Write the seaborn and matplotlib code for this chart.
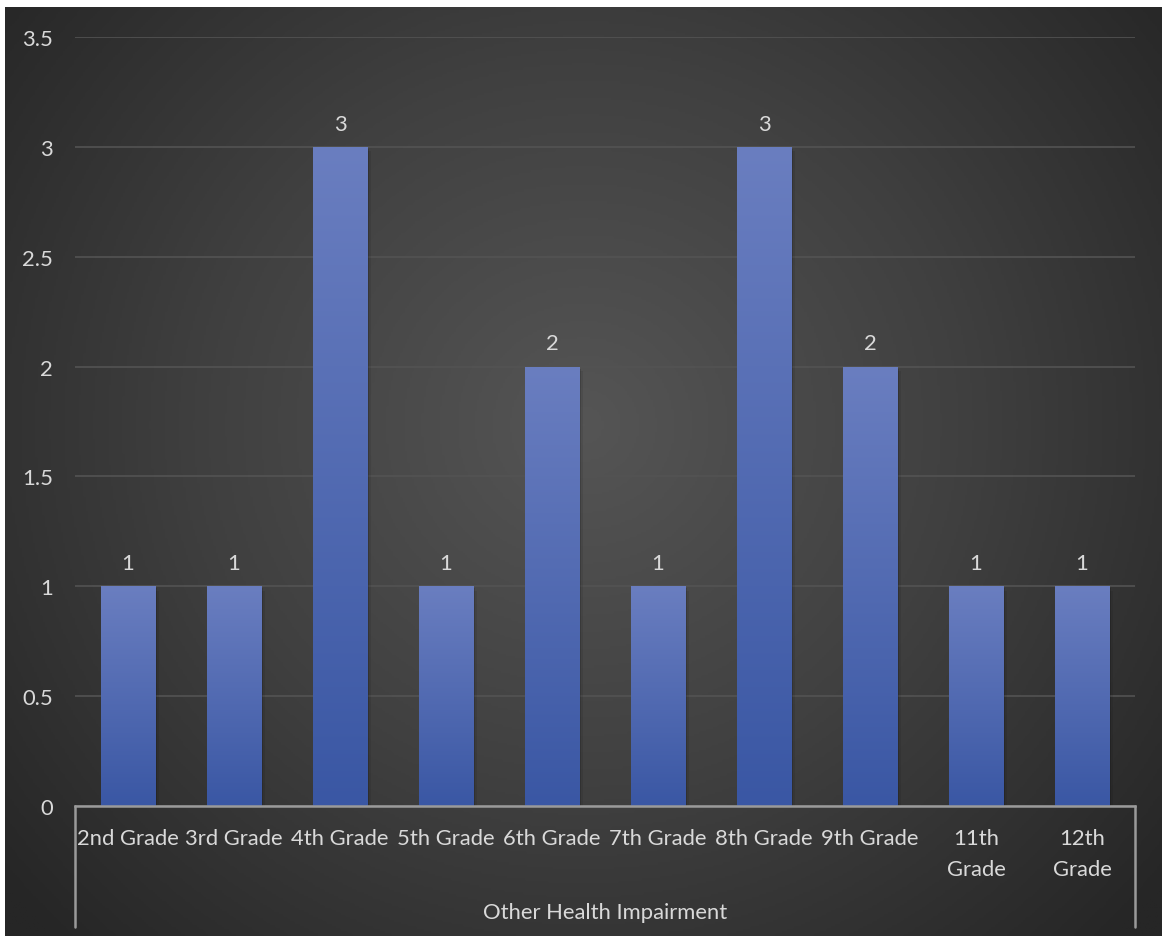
import textwrap
import numpy as np
import pandas as pd
import matplotlib
matplotlib.use("Agg")
import matplotlib.pyplot as plt
import seaborn as sns
from matplotlib.colors import LinearSegmentedColormap

categories = ["2nd Grade", "3rd Grade", "4th Grade", "5th Grade", "6th Grade",
              "7th Grade", "8th Grade", "9th Grade", "11th Grade", "12th Grade"]
values = [1, 1, 3, 1, 2, 1, 3, 2, 1, 1]
group_label = "Other Health Impairment"
y_ticks = [0, 0.5, 1, 1.5, 2, 2.5, 3, 3.5]
y_tick_labels = ["0", "0.5", "1", "1.5", "2", "2.5", "3", "3.5"]

sns.set_theme(style="white")
plt.rcParams["font.family"] = ["Lato", "DejaVu Sans"]
TXT = "#d9d9d9"
FS = 15.8

W, H = 1162, 937
fig = plt.figure(figsize=(W / 100, H / 100), dpi=100)
fig.patch.set_facecolor("white")

# background radial gradient (dark area, leaving thin white strip top/left)
bg = fig.add_axes([5 / W, 0, 1 - 5 / W, 1 - 8 / H])
yy, xx = np.mgrid[0:1:400j, 0:1:500j]
cx, cy = 0.50, 0.45
r = np.sqrt(((xx - cx) * 1.2) ** 2 + ((yy - cy) * 1.0) ** 2)
r = np.clip(r / 0.78, 0, 1)
bgcmap = LinearSegmentedColormap.from_list("bg", ["#555555", "#404040", "#262626"])
bg.imshow(r, cmap=bgcmap, aspect="auto", extent=[0, 1, 1, 0], vmin=0, vmax=1)
bg.set_axis_off()

left, right, top, bottom = 75, 1135, 38, 807
ax = fig.add_axes([left / W, 1 - bottom / H, (right - left) / W, (bottom - top) / H])
ax.patch.set_alpha(0)

df = pd.DataFrame({"category": categories, "value": values})
sns.barplot(data=df, x="category", y="value", ax=ax, width=0.51,
            color="#4a66b0", saturation=1, zorder=3)

ax.set_ylim(0, 3.5)
ax.set_xlim(-0.5, len(categories) - 0.5)
ax.set_yticks(y_ticks)
ax.set_yticklabels(y_tick_labels)
ax.set_xlabel("")
ax.set_ylabel("")
ax.grid(axis="y", color="#535353", linewidth=1.2, zorder=0)
ax.grid(axis="x", visible=False)
for s in ["top", "right", "left"]:
    ax.spines[s].set_visible(False)
ax.spines["bottom"].set_color("#9a9a9a")
ax.spines["bottom"].set_linewidth(1.8)
ax.spines["bottom"].set_zorder(5)

ax.tick_params(axis="y", length=0, pad=16, labelsize=FS, labelcolor=TXT)
ax.tick_params(axis="x", length=0, pad=16, labelsize=FS, labelcolor=TXT)
ax.set_xticks(range(len(categories)))
ax.set_xticklabels([textwrap.fill(c, 9) for c in categories], linespacing=1.7)

# gradient fill on bars
barcmap = LinearSegmentedColormap.from_list("bar", ["#3a57a4", "#6a7ec0"])
grad = np.linspace(0, 1, 256).reshape(-1, 1)
for p in ax.patches:
    x0, y0 = p.get_x(), p.get_y()
    w, h = p.get_width(), p.get_height()
    for k, a in enumerate([0.14, 0.08]):
        sh = plt.Rectangle((x0 + 0.01, y0), w + 0.012 * (k + 1), h - 0.01 * (k + 1),
                           facecolor="black", alpha=a, zorder=2, linewidth=0)
        ax.add_patch(sh)
    im = ax.imshow(grad, cmap=barcmap, aspect="auto", origin="lower",
                   extent=[x0, x0 + w, y0, y0 + h], zorder=3)
    im.set_clip_path(p)
    p.set_facecolor("none")
    p.set_edgecolor("none")

ax.set_xlim(-0.5, len(categories) - 0.5)
ax.set_ylim(0, 3.5)

ax.bar_label(ax.containers[0], labels=[str(v) for v in values], padding=9.5,
             color=TXT, fontsize=FS)

# group bracket and label
yb = -(928 - 807) / (807 - 38)
for xa in (0, 1):
    ax.plot([xa, xa], [0, yb], transform=ax.transAxes, color="#9a9a9a",
            linewidth=1.8, clip_on=False, zorder=5)
ax.text(0.5, -(913 - 807) / (807 - 38), group_label, transform=ax.transAxes,
        ha="center", va="center", color=TXT, fontsize=FS)

fig.savefig("out.png", dpi=100, facecolor=fig.get_facecolor())
